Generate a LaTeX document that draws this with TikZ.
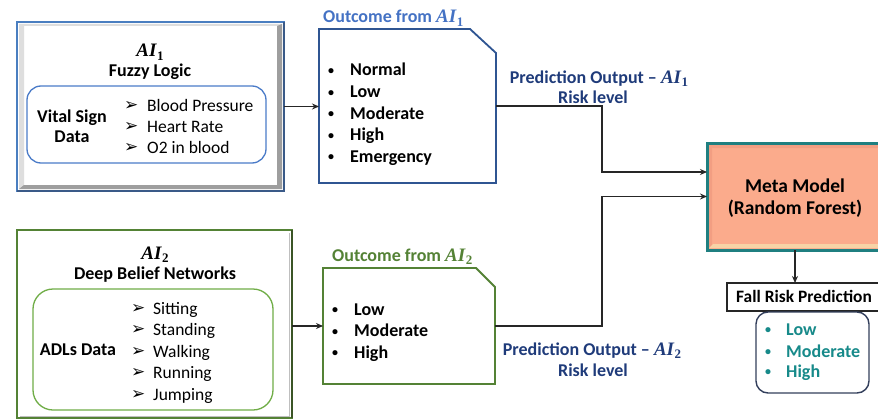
\documentclass[tikz,border=0pt]{standalone}
\usepackage{fontspec}
\setmainfont{Carlito}
\newfontfamily\aifont{Liberation Serif}
\newfontfamily\symfont{DejaVu Sans}
\usetikzlibrary{arrows.meta}

\definecolor{boxblue}{HTML}{4A7EC0}
\definecolor{boxbluedark}{HTML}{3A5A88}
\definecolor{outblue}{HTML}{2F5592}
\definecolor{lblblue}{HTML}{4472C4}
\definecolor{innerblue}{HTML}{4A7BC8}
\definecolor{boxgreen}{HTML}{548235}
\definecolor{boxgreendark}{HTML}{3B5526}
\definecolor{innergreen}{HTML}{70AD47}
\definecolor{navy}{HTML}{1F3B7A}
\definecolor{metateal}{HTML}{1F7F80}
\definecolor{metafill}{HTML}{FBAB8C}
\definecolor{metadark}{HTML}{F29E82}
\definecolor{metalight}{HTML}{F7D3A6}
\definecolor{riskteal}{HTML}{178A8A}
\definecolor{risknavy}{HTML}{333F5C}

% AI with a subscript index, as in the model labels
\newcommand\AIsub[1]{{\aifont\bfseries\itshape\fontsize{19}{19}\selectfont AI\/}\raisebox{-0.35ex}{\aifont\bfseries\fontsize{13}{13}\selectfont #1}}
% list markers
\newcommand\arrowmark[1]{\makebox[#1][l]{\raisebox{0.5pt}{\symfont\fontsize{17}{17}\selectfont ➢}}}
\newcommand\dotmark[1]{\makebox[#1][l]{\raisebox{1.5pt}{\fontsize{12}{12}\selectfont •}}}

\tikzset{
  txt/.style={inner sep=0pt, font=\fontsize{17.5}{21}\selectfont},
  btxt/.style={inner sep=0pt, font=\bfseries\fontsize{18}{21}\selectfont},
  frame/.style={inner sep=0pt, outer sep=0pt, anchor=north west},
  conn/.style={draw=black!85, line width=1.3pt},
  arr/.style={conn, -{Stealth[length=7pt,width=6pt]}},
}

\begin{document}
\begin{tikzpicture}[x=1pt,y=-1pt]
\clip (0,0) rectangle (878,420);
\fill[white] (0,0) rectangle (878,420);

% ---------- AI1 : Fuzzy Logic ----------
\node[frame, minimum width=267pt, minimum height=169pt] (ai1) at (17,22) {};
\fill[black!13] (19,24) -- (282,24) -- (281,26) -- (24,26) -- (24,187) -- (19,189) -- cycle;
\fill[black!38] (282,24) -- (282,189) -- (19,189) -- (24,185) -- (277,185) -- (277,26) -- cycle;
\draw[boxblue, line width=2pt] (17,22) rectangle (284,191);
\draw[boxbluedark, line width=2.5pt] (284,22) -- (284,191) -- (17,191);
\node[btxt, anchor=base] (ai1t) at (150,57) {\AIsub{1}};
\node[btxt, anchor=base] (ai1n) at (150,77) {Fuzzy Logic};
\draw[innerblue, line width=1.3pt, rounded corners=14pt] (27,86) rectangle (266,163);
\node[btxt, anchor=base] (vs1) at (72,122) {Vital Sign};
\node[btxt, anchor=base] (vs2) at (72,142) {Data};
\foreach \t/\yy [count=\i] in {Blood Pressure/111, Heart Rate/132, O2 in blood/153}
  \node[txt, anchor=base west] (vi\i) at (124,\yy) {\arrowmark{23pt}\t};

% ---------- AI2 : Deep Belief Networks ----------
\node[frame, minimum width=275pt, minimum height=188pt] (ai2) at (17,230) {};
\draw[black!25, line width=1pt] (289,233) -- (289,416) -- (20,416);
\draw[boxgreen, line width=2.2pt] (17,230) rectangle (292,418);
\draw[boxgreendark, line width=2.4pt] (292,230) -- (292,418);
\node[btxt, anchor=base] (ai2t) at (155,259) {\AIsub{2}};
\node[btxt, anchor=base] (ai2n) at (155,279) {Deep Belief Networks};
\draw[innergreen, line width=1.3pt, rounded corners=20pt] (33,289) rectangle (273,410);
\node[btxt, anchor=base] (adl) at (78,355) {ADLs Data};
\foreach \t/\yy [count=\i] in {Sitting/314, Standing/335, Walking/357, Running/378, Jumping/400}
  \node[txt, anchor=base west] (ad\i) at (131,\yy) {\arrowmark{22pt}\t};

% ---------- Outcome from AI1 ----------
\node[frame, minimum width=177pt, minimum height=154pt] (out1) at (319,29) {};
\draw[outblue, line width=1.8pt] (out1.south west) -- (out1.north west)
  -- ([xshift=-26pt]out1.north east) -- ([yshift=-24pt]out1.north east)
  -- (out1.south east) -- cycle;
\node[btxt, lblblue, anchor=base west] (o1lbl) at (323,23) {Outcome from \AIsub{1}};
\foreach \t/\yy [count=\i] in {Normal/76, Low/97.5, Moderate/119, High/140.5, Emergency/162}
  \node[btxt, anchor=base west] (oa\i) at (328,\yy) {\dotmark{22pt}\t};

% ---------- Outcome from AI2 ----------
\node[frame, minimum width=172pt, minimum height=116pt] (out2) at (323,268) {};
\draw[boxgreen, line width=1.8pt] (out2.south west) -- (out2.north west)
  -- ([xshift=-19pt]out2.north east) -- ([yshift=-19pt]out2.north east)
  -- (out2.south east) -- cycle;
\node[btxt, boxgreen, anchor=base west] (o2lbl) at (332,261) {Outcome from \AIsub{2}};
\foreach \t/\yy [count=\i] in {Low/315, Moderate/336.5, High/358}
  \node[btxt, anchor=base west] (ob\i) at (332,\yy) {\dotmark{22pt}\t};

% ---------- Meta model ----------
\node[frame, minimum width=176pt, minimum height=107pt] (meta) at (707,143) {};
\fill[metafill] (707,143) rectangle (883,250);
\fill[metadark] (709,145) -- (881,145) -- (878,148) -- (712,148) -- (712,245) -- (709,248) -- cycle;
\fill[metalight] (709,248) -- (713,244) -- (881,244) -- (881,248) -- cycle;
\draw[metateal, line width=3pt] (707,143) rectangle (883,250);
\node[btxt, anchor=base] (mm1) at (795,192) {\fontsize{19.5}{23}\selectfont Meta Model};
\node[btxt, anchor=base] (mm2) at (795,214) {\fontsize{19.5}{23}\selectfont (Random Forest)};

% ---------- Fall risk prediction ----------
\node[frame, draw=black!85, line width=1.2pt, minimum width=155pt, minimum height=28pt] (fall) at (727,283) {};
\node[btxt, anchor=base west] (fallt) at (736,302) {\fontsize{17.4}{21}\selectfont Fall Risk Prediction};
\node[frame, draw=risknavy, line width=1.4pt, rounded corners=12pt,
      minimum width=113pt, minimum height=81pt] (risk) at (756,312) {};
\foreach \t/\yy [count=\i] in {Low/335, Moderate/357, High/377}
  \node[btxt, riskteal, anchor=base west] (rk\i) at (765,\yy) {\dotmark{21pt}\t};

% ---------- connectors ----------
\draw[arr] (ai1.east) -- (ai1.east -| out1.west);
\draw[arr] (ai2.east |- out2.west) -- (out2.west);
\draw[arr] (out1.east) -- ++(106,0) |- ([yshift=24.5pt]meta.west);
\draw[arr] (out2.east) -- ++(107,0) |- (meta.west);
\draw[arr] (meta.south) -- (meta.south |- fall.north);

% ---------- output labels ----------
\node[btxt, navy, anchor=base] (p1a) at (599,83) {Prediction Output -- \AIsub{1}};
\node[btxt, navy, anchor=base] (p1b) at (593,103) {Risk level};
\node[btxt, navy, anchor=base] (p2a) at (592,355) {Prediction Output -- \AIsub{2}};
\node[btxt, navy, anchor=base] (p2b) at (593,376) {Risk level};
\end{tikzpicture}
\end{document}
